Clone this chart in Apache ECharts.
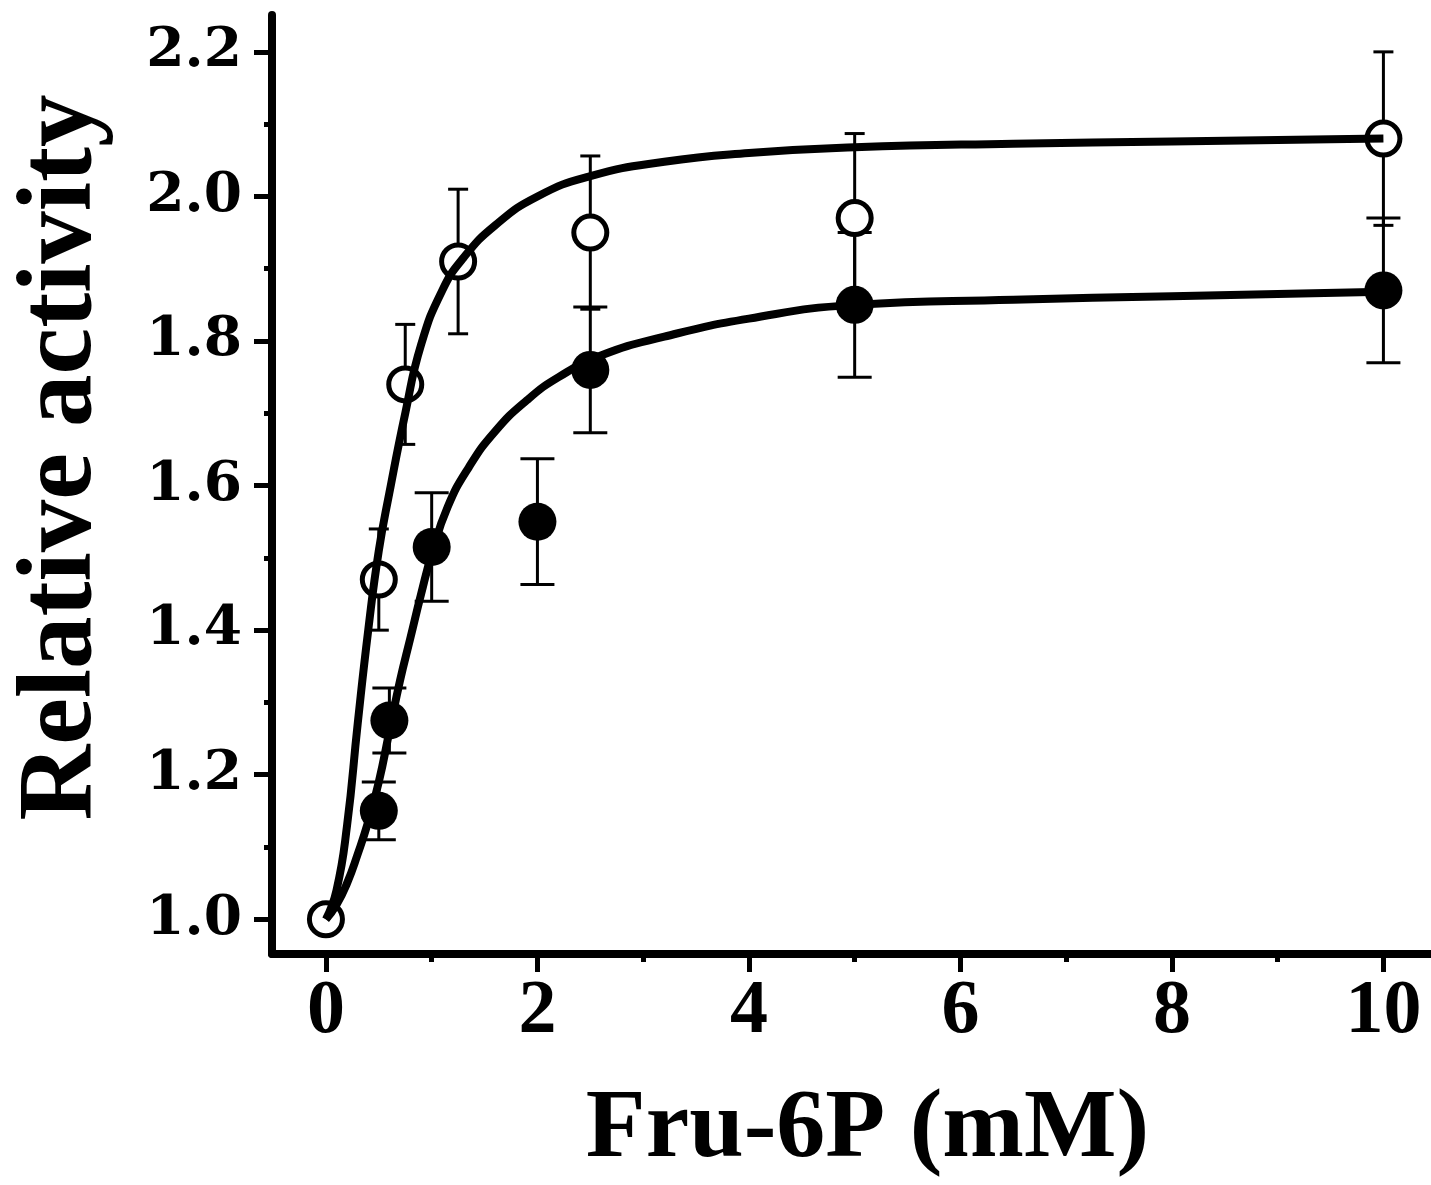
<!DOCTYPE html>
<html>
<head>
<meta charset="utf-8">
<script src="https://cdn.jsdelivr.net/npm/echarts@6/dist/echarts.min.js"></script>
<style>
  html, body { margin: 0; padding: 0; background: #fff; }
  #chart { width: 1431px; height: 1185px; }
</style>
</head>
<body>
<div id="chart"></div>
<script>
// tick values
const xTicks = [0, 2, 4, 6, 8, 10];
const xMinorTicks = [1, 3, 5, 7, 9];
const yTicks = [1.0, 1.2, 1.4, 1.6, 1.8, 2.0, 2.2];
const yMinorTicks = [1.1, 1.3, 1.5, 1.7, 1.9, 2.1];

// open circles: measured points and SD
const openX = [0, 0.5, 0.75, 1.25, 2.5, 5, 10];
const openY = [1.0, 1.47, 1.74, 1.91, 1.95, 1.97, 2.08];
const openErr = [0, 0.07, 0.083, 0.10, 0.106, 0.117, 0.12];

// filled circles
const filledX = [0.5, 0.6, 1, 2, 2.5, 5, 10];
const filledY = [1.15, 1.275, 1.515, 1.55, 1.76, 1.85, 1.87];
const filledErr = [0.04, 0.045, 0.075, 0.087, 0.087, 0.10, 0.10];

// fitted curves
const openFitX = [0, 0.1, 0.2, 0.3, 0.4, 0.5, 0.6, 0.75, 0.9, 1.1, 1.3, 1.6, 2.0, 2.5, 3.2, 4.0, 5.0, 6.5, 8.0, 10];
const openFitY = [1.0, 1.04, 1.13, 1.27, 1.40, 1.51, 1.59, 1.70, 1.795, 1.87, 1.915, 1.96, 2.0, 2.028, 2.048, 2.06, 2.068, 2.073, 2.076, 2.08];

const filledFitX = [0, 0.1, 0.2, 0.3, 0.4, 0.5, 0.6, 0.7, 0.8, 0.9, 1.0, 1.15, 1.35, 1.6, 1.9, 2.2, 2.6, 3.2, 4.0, 5.0, 6.5, 8.0, 10];
const filledFitY = [1.0, 1.02, 1.05, 1.09, 1.135, 1.19, 1.26, 1.33, 1.39, 1.45, 1.505, 1.57, 1.625, 1.675, 1.718, 1.75, 1.78, 1.806, 1.831, 1.85, 1.857, 1.862, 1.868];

const zip = (xs, ys, es) => xs.map((x, i) => es ? [x, ys[i], es[i]] : [x, ys[i]]);

const X_MIN = -0.51, X_MAX = 10.45;
const Y_MIN = 0.952, Y_MAX = 2.251;

// error bar: vertical line with caps
function errorBar(capHalf) {
    return function (params, api) {
        const x = api.value(0), y = api.value(1), e = api.value(2);
        if (!e) return null;
        const top = api.coord([x, y + e]);
        const bot = api.coord([x, y - e]);
        const style = { stroke: '#000', lineWidth: 3 };
        return {
            type: 'group',
            children: [
                { type: 'line', shape: { x1: top[0], y1: top[1], x2: bot[0], y2: bot[1] }, style },
                { type: 'line', shape: { x1: top[0] - capHalf, y1: top[1], x2: top[0] + capHalf, y2: top[1] }, style },
                { type: 'line', shape: { x1: bot[0] - capHalf, y1: bot[1], x2: bot[0] + capHalf, y2: bot[1] }, style }
            ]
        };
    };
}

const chart = echarts.init(document.getElementById('chart'));

const labelFont = { fontFamily: 'Liberation Serif', fontWeight: 'bold', color: '#000' };

chart.setOption({
    animation: false,
    backgroundColor: '#fff',
    grid: { left: 272, right: 0, top: 15, bottom: 231, outerBoundsMode: 'none', containLabel: false },
    xAxis: [
        {
            type: 'value', min: X_MIN, max: X_MAX,
            name: 'Fru-6P (mM)', nameLocation: 'middle', nameGap: 128,
            nameTextStyle: { ...labelFont, fontSize: 98, padding: [0, 0, 0, 32] },
            axisLine: { onZero: false, lineStyle: { color: '#000', width: 8 } },
            axisTick: { customValues: xTicks, length: 18, lineStyle: { color: '#000', width: 5 } },
            axisLabel: { customValues: xTicks, margin: 20, ...labelFont, fontSize: 76 },
            splitLine: { show: false }
        },
        {
            type: 'value', min: X_MIN, max: X_MAX, position: 'bottom',
            axisLine: { show: false, onZero: false },
            axisTick: { customValues: xMinorTicks, length: 8, lineStyle: { color: '#000', width: 5 } },
            axisLabel: { show: false },
            splitLine: { show: false }
        }
    ],
    yAxis: [
        {
            type: 'value', min: Y_MIN, max: Y_MAX,
            name: 'Relative activity', nameLocation: 'middle', nameGap: 157,
            nameTextStyle: { ...labelFont, fontSize: 105, padding: [0, 0, 0, 54] },
            axisLine: { onZero: false, lineStyle: { color: '#000', width: 8 } },
            axisTick: { customValues: yTicks, length: 18, lineStyle: { color: '#000', width: 5 } },
            axisLabel: {
                customValues: yTicks, margin: 30,
                fontFamily: 'DejaVu Serif', fontWeight: 'bold', fontSize: 55, color: '#000',
                formatter: v => v.toFixed(1)
            },
            splitLine: { show: false }
        },
        {
            type: 'value', min: Y_MIN, max: Y_MAX, position: 'left',
            axisLine: { show: false, onZero: false },
            axisTick: { customValues: yMinorTicks, length: 8, lineStyle: { color: '#000', width: 5 } },
            axisLabel: { show: false },
            splitLine: { show: false }
        }
    ],
    series: [
        {
            type: 'custom', name: 'filled SD', z: 1,
            renderItem: errorBar(17),
            encode: { x: 0, y: 1 },
            data: zip(filledX, filledY, filledErr)
        },
        {
            type: 'custom', name: 'open SD', z: 1,
            renderItem: errorBar(10),
            encode: { x: 0, y: 1 },
            data: zip(openX, openY, openErr)
        },
        {
            type: 'scatter', name: 'filled', z: 2,
            symbol: 'circle', symbolSize: 38,
            itemStyle: { color: '#000', opacity: 1 },
            data: zip(filledX, filledY)
        },
        {
            type: 'scatter', name: 'open', z: 3,
            symbol: 'circle', symbolSize: 33,
            itemStyle: { color: '#fff', borderColor: '#000', borderWidth: 5, opacity: 1 },
            data: zip(openX, openY)
        },
        {
            type: 'line', name: 'filled fit', z: 4,
            smooth: 0.5, showSymbol: false, symbol: 'none',
            lineStyle: { color: '#000', width: 8, join: 'round' },
            data: zip(filledFitX, filledFitY)
        },
        {
            type: 'line', name: 'open fit', z: 4,
            smooth: 0.5, showSymbol: false, symbol: 'none',
            lineStyle: { color: '#000', width: 8, join: 'round' },
            data: zip(openFitX, openFitY)
        }
    ]
});
</script>
</body>
</html>
